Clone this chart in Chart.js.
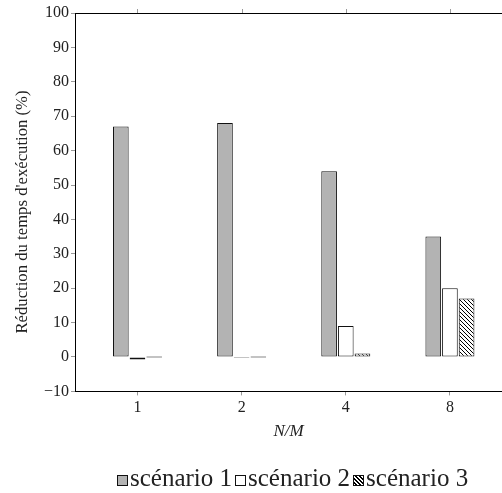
<!DOCTYPE html>
<html>
<head>
<meta charset="utf-8">
<script src="https://cdn.jsdelivr.net/npm/chart.js@4.4.0/dist/chart.umd.min.js"></script>
<style>
    body { margin: 0; background: #fff; overflow: hidden; }
    #cadre-graphe { position: relative; width: 502px; height: 493px; }
    #legende {
        position: absolute; left: 117px; top: 464px; height: 28px;
        display: flex; align-items: baseline; white-space: nowrap;
        font-family: 'Liberation Serif', 'DejaVu Serif', serif; font-size: 25px;
        line-height: 28px; color: #222;
    }
    #legende .item { display: flex; align-items: baseline; margin-right: 3px; }
    #legende .boite {
        display: inline-block; width: 9px; height: 9px; border: 1px solid #111;
        margin-right: 2px; margin-bottom: 3px;
    }
</style>
</head>
<body>
<div id="cadre-graphe">
    <canvas id="grafico" width="502" height="493"></canvas>
    <div id="legende"></div>
</div>
<script>
// Données
const categories = ['1', '2', '4', '8'];
const scenario1 = [67, 68, 54, 35];
const scenario2 = [-0.7, -0.3, 9, 20];
const scenario3 = [0, 0, 1, 17];
const yTicks = [-10, 0, 10, 20, 30, 40, 50, 60, 70, 80, 90, 100];

const police = "'Liberation Serif', 'DejaVu Serif', serif";
const titreY = "Réduction du temps d'exécution (%)";

// Motif hachuré pour le scénario 3
function hachures() {
    const c = document.createElement('canvas');
    c.width = 4;
    c.height = 4;
    const g = c.getContext('2d');
    g.fillStyle = '#fff';
    g.fillRect(0, 0, 4, 4);
    g.strokeStyle = '#000';
    g.lineWidth = 1;
    g.beginPath();
    g.moveTo(-1, -1); g.lineTo(5, 5);
    g.moveTo(-1, 3); g.lineTo(1, 5);
    g.moveTo(3, -1); g.lineTo(5, 1);
    g.stroke();
    return g.createPattern(c, 'repeat');
}

// Fond des boîtes de la légende HTML
const fondsLegende = [
    '#b3b3b3',
    '#ffffff',
    'repeating-linear-gradient(45deg, #fff 0px, #fff 1.4px, #000 1.4px, #000 2.8px)'
];

const ctx = document.getElementById('grafico').getContext('2d');

// Ligne du haut du cadre, petites graduations et titre de l'axe y
const cadre = {
    id: 'cadre',
    afterDraw(chart) {
        const a = chart.chartArea;
        const x = chart.scales.x;
        const c = chart.ctx;
        c.save();
        c.strokeStyle = '#000';
        c.lineWidth = 1;
        c.beginPath();
        c.moveTo(a.left, a.top + 0.5);
        c.lineTo(a.right, a.top + 0.5);
        c.stroke();
        c.strokeStyle = '#999';
        c.beginPath();
        categories.forEach((cat, i) => {
            const px = Math.round(x.getPixelForValue(i)) + 0.5;
            c.moveTo(px, a.top);
            c.lineTo(px, a.top - 4);
        });
        c.stroke();

        // titre vertical, un peu plus bas que le centre comme sur la figure
        c.translate(23, 212);
        c.rotate(-Math.PI / 2);
        c.fillStyle = '#222';
        c.font = '16.7px ' + police;
        c.textAlign = 'center';
        c.textBaseline = 'middle';
        c.fillText(titreY, 0, 0);
        c.restore();
    }
};

// Légende en HTML (les boîtes sont collées au texte)
const legendeHtml = {
    id: 'legendeHtml',
    afterUpdate(chart) {
        const el = document.getElementById('legende');
        el.innerHTML = '';
        chart.data.datasets.forEach((ds, i) => {
            const item = document.createElement('span');
            item.className = 'item';
            const boite = document.createElement('span');
            boite.className = 'boite';
            boite.style.background = fondsLegende[i];
            item.appendChild(boite);
            item.appendChild(document.createTextNode(ds.label));
            el.appendChild(item);
        });
    }
};

const commun = {
    borderColor: '#111',
    borderWidth: 1,
    borderSkipped: false,
    minBarLength: 1,
    categoryPercentage: 0.48,
    barPercentage: 0.94
};

new Chart(ctx, {
    type: 'bar',
    data: {
        labels: categories.map((c, i) => i),
        datasets: [
            Object.assign({ label: 'scénario 1', data: scenario1, backgroundColor: '#b3b3b3' }, commun),
            Object.assign({ label: 'scénario 2', data: scenario2, backgroundColor: '#ffffff' }, commun),
            Object.assign({ label: 'scénario 3', data: scenario3, backgroundColor: hachures() }, commun)
        ]
    },
    options: {
        responsive: false,
        animation: false,
        layout: { padding: { top: 13, right: 0, bottom: 51, left: 0 } },
        scales: {
            x: {
                type: 'linear',
                min: -0.6,
                max: 3.5,
                offset: false,
                afterBuildTicks: (s) => { s.ticks = categories.map((c, i) => ({ value: i })); },
                ticks: {
                    callback: (v) => categories[v],
                    color: '#222',
                    font: { family: police, size: 16 },
                    padding: 3,
                    maxRotation: 0
                },
                grid: { drawOnChartArea: false, offset: false, tickLength: 4, color: '#999' },
                border: { color: '#000', width: 1 },
                title: {
                    display: true,
                    text: 'N/M',
                    color: '#222',
                    font: { family: police, size: 17, style: 'italic' },
                    padding: { top: 1, bottom: 0 }
                }
            },
            y: {
                min: -10,
                max: 100,
                afterBuildTicks: (s) => { s.ticks = yTicks.map(v => ({ value: v })); },
                afterFit: (s) => { s.width = 75; },
                ticks: {
                    callback: (v) => v < 0 ? '\u2212' + Math.abs(v) : v,
                    color: '#222',
                    font: { family: police, size: 16 },
                    padding: 2
                },
                grid: { drawOnChartArea: false, tickLength: 4, color: '#999' },
                border: { color: '#000', width: 1 }
            }
        },
        plugins: {
            legend: { display: false },
            tooltip: { enabled: false }
        }
    },
    plugins: [cadre, legendeHtml]
});
</script>
</body>
</html>
